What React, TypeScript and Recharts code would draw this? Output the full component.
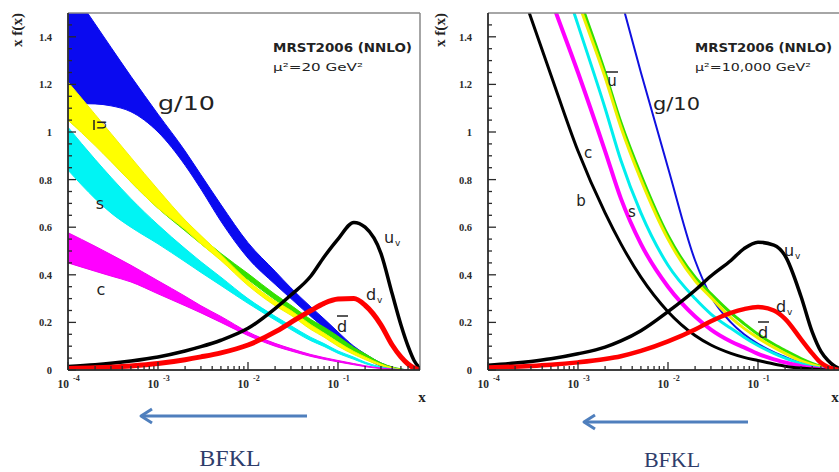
import React from 'react';
import { ComposedChart, Area, Line, XAxis, YAxis, ReferenceLine } from 'recharts';

// ---------- shared x grid ----------
const xs = [1e-4, 2e-4, 3e-4, 5e-4, 1e-3, 2e-3, 3e-3, 5e-3, 1e-2, 2e-2, 3e-2, 5e-2, 0.07, 0.1, 0.15, 0.2, 0.3, 0.4, 0.5, 0.6, 0.7, 0.8];

// ---------- left panel: mu^2 = 20 GeV^2 (bands: low / high) ----------
const gLoLeft = [1.12, 1.118, 1.11, 1.085, 1.0, 0.86, 0.76, 0.625, 0.47, 0.36, 0.3, 0.225, 0.178, 0.13, 0.078, 0.05, 0.016, 0.005, 0.001, 0, 0, 0];
const gHiLeft = [1.62, 1.454, 1.356, 1.234, 1.075, 0.92, 0.82, 0.695, 0.535, 0.415, 0.345, 0.265, 0.215, 0.16, 0.1, 0.068, 0.03, 0.012, 0.004, 0.001, 0, 0];
const ubarLoLeft = [1.05, 0.943, 0.876, 0.79, 0.68, 0.59, 0.53, 0.46, 0.355, 0.27, 0.23, 0.17, 0.138, 0.1, 0.065, 0.044, 0.018, 0.006, 0.001, 0, 0, 0];
const ubarHiLeft = [1.21, 1.074, 0.994, 0.893, 0.758, 0.63, 0.565, 0.485, 0.375, 0.29, 0.25, 0.19, 0.155, 0.117, 0.078, 0.055, 0.025, 0.01, 0.003, 0, 0, 0];
const dbarLoLeft = [1.05, 0.95, 0.88, 0.79, 0.68, 0.585, 0.53, 0.465, 0.38, 0.295, 0.25, 0.19, 0.158, 0.12, 0.078, 0.054, 0.022, 0.008, 0.002, 0, 0, 0];
const dbarHiLeft = [1.15, 1.03, 0.95, 0.86, 0.73, 0.62, 0.56, 0.49, 0.405, 0.318, 0.272, 0.212, 0.18, 0.142, 0.095, 0.068, 0.03, 0.013, 0.005, 0, 0, 0];
const sLoLeft = [0.84, 0.72, 0.66, 0.6, 0.53, 0.455, 0.41, 0.355, 0.28, 0.21, 0.17, 0.123, 0.099, 0.07, 0.045, 0.027, 0.009, 0.002, 0, 0, 0, 0];
const sHiLeft = [1.02, 0.885, 0.81, 0.72, 0.61, 0.51, 0.455, 0.39, 0.3, 0.226, 0.186, 0.137, 0.111, 0.08, 0.054, 0.033, 0.013, 0.005, 0.001, 0, 0, 0];
const cLoLeft = [0.45, 0.415, 0.395, 0.37, 0.32, 0.27, 0.24, 0.2, 0.145, 0.1, 0.08, 0.057, 0.045, 0.034, 0.022, 0.014, 0.006, 0.002, 0, 0, 0, 0];
const cHiLeft = [0.577, 0.52, 0.485, 0.44, 0.375, 0.31, 0.27, 0.225, 0.16, 0.112, 0.09, 0.065, 0.052, 0.04, 0.027, 0.018, 0.008, 0.004, 0.001, 0, 0, 0];
const uvLeft = [0.015, 0.022, 0.028, 0.038, 0.055, 0.08, 0.098, 0.125, 0.175, 0.258, 0.315, 0.395, 0.475, 0.55, 0.62, 0.6, 0.49, 0.32, 0.19, 0.1, 0.04, 0.01];
const dvLeft = [0.006, 0.009, 0.012, 0.017, 0.027, 0.043, 0.055, 0.072, 0.105, 0.16, 0.2, 0.25, 0.28, 0.298, 0.3, 0.272, 0.19, 0.105, 0.055, 0.025, 0.008, 0];

// ---------- right panel: mu^2 = 10,000 GeV^2 ----------
const gRight = [4.5, 3.7, 3.3, 2.85, 2.3, 1.82, 1.56, 1.25, 0.85, 0.46, 0.31, 0.2, 0.15, 0.11, 0.075, 0.055, 0.03, 0.017, 0.01, 0.005, 0.002, 0];
const ubarRight = [3.5, 2.6, 2.25, 1.9, 1.55, 1.23, 1.02, 0.8, 0.55, 0.375, 0.305, 0.22, 0.175, 0.135, 0.095, 0.07, 0.038, 0.022, 0.012, 0.006, 0.002, 0];
const dbarRight = [3.55, 2.65, 2.3, 1.94, 1.58, 1.25, 1.04, 0.82, 0.565, 0.39, 0.32, 0.24, 0.195, 0.15, 0.108, 0.082, 0.048, 0.028, 0.016, 0.008, 0.003, 0];
const sRight = [3.2, 2.4, 2.1, 1.8, 1.45, 1.1, 0.88, 0.66, 0.44, 0.3, 0.235, 0.175, 0.138, 0.103, 0.07, 0.05, 0.027, 0.014, 0.007, 0.003, 0.001, 0];
const cRight = [2.5, 2.0, 1.8, 1.56, 1.25, 0.92, 0.72, 0.53, 0.35, 0.225, 0.17, 0.12, 0.095, 0.068, 0.045, 0.032, 0.016, 0.008, 0.003, 0.001, 0, 0];
const bRight = [2.1, 1.68, 1.48, 1.24, 0.92, 0.66, 0.53, 0.39, 0.245, 0.145, 0.105, 0.07, 0.053, 0.04, 0.025, 0.016, 0.008, 0.004, 0.002, 0, 0, 0];
const uvRight = [0.02, 0.029, 0.036, 0.047, 0.068, 0.096, 0.122, 0.165, 0.245, 0.335, 0.395, 0.46, 0.51, 0.537, 0.525, 0.48, 0.31, 0.16, 0.078, 0.04, 0.018, 0.006];
const dvRight = [0.01, 0.014, 0.017, 0.022, 0.032, 0.046, 0.058, 0.08, 0.12, 0.17, 0.205, 0.24, 0.256, 0.265, 0.25, 0.215, 0.13, 0.07, 0.03, 0.012, 0.004, 0];

// ---------- ticks ----------
const xMajorTicks = [1e-4, 1e-3, 1e-2, 1e-1];
const xMajorExps = ['-4', '-3', '-2', '-1'];
const xMinorTicks = [2e-4, 3e-4, 4e-4, 5e-4, 6e-4, 7e-4, 8e-4, 9e-4, 2e-3, 3e-3, 4e-3, 5e-3, 6e-3, 7e-3, 8e-3, 9e-3, 2e-2, 3e-2, 4e-2, 5e-2, 6e-2, 7e-2, 8e-2, 9e-2, 0.2, 0.3, 0.4, 0.5, 0.6, 0.7, 0.8];
const yTicks = [0, 0.2, 0.4, 0.6, 0.8, 1, 1.2, 1.4];
const yTickLabels = ['0', '0.2', '0.4', '0.6', '0.8', '1', '1.2', '1.4'];
const yMinorTicks = [0.05, 0.1, 0.15, 0.25, 0.3, 0.35, 0.45, 0.5, 0.55, 0.65, 0.7, 0.75, 0.85, 0.9, 0.95, 1.05, 1.1, 1.15, 1.25, 1.3, 1.35, 1.45];

const X_MIN = 1e-4;
const X_MAX_LEFT = 0.815;
const X_MAX_RIGHT = 1;
const Y_MAX = 1.5;

const rowsLeft = xs.map((x, i) => ({
  x,
  g: [gLoLeft[i], gHiLeft[i]],
  ubar: [ubarLoLeft[i], ubarHiLeft[i]],
  dbar: [dbarLoLeft[i], dbarHiLeft[i]],
  s: [sLoLeft[i], sHiLeft[i]],
  c: [cLoLeft[i], cHiLeft[i]],
  uv: uvLeft[i],
  dv: dvLeft[i],
}));

const rowsRight = xs.map((x, i) => ({
  x,
  g: gRight[i],
  ubar: ubarRight[i],
  dbar: dbarRight[i],
  s: sRight[i],
  c: cRight[i],
  b: bRight[i],
  uv: uvRight[i],
  dv: dvRight[i],
}));

const tickColor = '#2a2a2a';
const serif = '"Liberation Serif", "DejaVu Serif", serif';
const sans = '"DejaVu Sans", "Liberation Sans", sans-serif';

// x-axis tick: tickSize 6 + tickMargin 2 -> axis line is 8px above the label anchor
const XTick = (p: any) => {
  const v = p.payload.value;
  const idx = xMajorTicks.findIndex((t) => Math.abs(Math.log10(t) - Math.log10(v)) < 1e-6);
  const axisY = p.y - 8;
  const len = idx >= 0 ? 8 : 4;
  return (
    <g>
      <line x1={p.x} x2={p.x} y1={axisY} y2={axisY - len} stroke={tickColor} strokeWidth={1.3} />
      {idx >= 0 && (
        <>
          <text x={p.x + 1} y={p.y + 10} textAnchor="end" fontFamily={serif} fontWeight={700} fontSize={11.5} fill={tickColor}>10</text>
          <text x={p.x + 5} y={p.y + 3} textAnchor="start" fontFamily={serif} fontWeight={700} fontSize={8} fill={tickColor}>{xMajorExps[idx]}</text>
        </>
      )}
    </g>
  );
};

// y-axis tick: tickSize 6 + tickMargin 10 -> axis line is 16px right of the label anchor
const YTick = (p: any) => {
  const v = p.payload.value;
  const idx = yTicks.findIndex((t) => Math.abs(t - v) < 1e-9);
  const axisX = p.x + 16;
  const len = idx >= 0 ? 8 : 4;
  return (
    <g>
      <line x1={axisX} x2={axisX + len} y1={p.y} y2={p.y} stroke={tickColor} strokeWidth={1.3} />
      {idx >= 0 && (
        <text x={p.x} y={p.y + 4} textAnchor="end" fontFamily={serif} fontWeight={700} fontSize={10.5} fill={tickColor}>{yTickLabels[idx]}</text>
      )}
    </g>
  );
};

function axes(xMax: number) {
  const xAll = [...xMajorTicks, ...xMinorTicks.filter((t) => t < xMax)].sort((a, b) => a - b);
  const yAll = [...yTicks, ...yMinorTicks].sort((a, b) => a - b);
  return [
    <XAxis key="xa" dataKey="x" type="number" scale="log" domain={[X_MIN, xMax]} allowDataOverflow interval={0}
      ticks={xAll} tick={<XTick />} tickLine={false} tickSize={6} tickMargin={2} height={30}
      axisLine={{ stroke: '#333', strokeWidth: 1.5 }} />,
    <YAxis key="ya" type="number" domain={[0, Y_MAX]} allowDataOverflow interval={0}
      ticks={yAll} tick={<YTick />} tickLine={false} tickSize={6} tickMargin={10} width={68}
      axisLine={{ stroke: '#333', strokeWidth: 1.5 }} />,
  ];
}

const bandProps = { type: 'monotone' as const, isAnimationActive: false, dot: false, activeDot: false, strokeWidth: 1, fillOpacity: 1 };
const lineProps = { type: 'monotone' as const, isAnimationActive: false, dot: false, activeDot: false };
const chartMargin = { top: 13, right: 1, bottom: 0, left: 0 };

function LeftChart() {
  return (
    <ComposedChart width={421} height={400} data={rowsLeft} margin={chartMargin}>
      {axes(X_MAX_LEFT)}
      <Area dataKey="g" fill="#0a0af0" stroke="#0a0af0" {...bandProps} />
      <Area dataKey="dbar" fill="#33e000" stroke="#33e000" {...bandProps} />
      <Area dataKey="ubar" fill="#ffff00" stroke="#f4f400" {...bandProps} />
      <Area dataKey="s" fill="#00f4f4" stroke="#00f0f0" {...bandProps} />
      <Area dataKey="c" fill="#ff00ff" stroke="#f000f0" {...bandProps} />
      <Line dataKey="uv" stroke="#000" strokeWidth={3.5} {...lineProps} />
      <Line dataKey="dv" stroke="#ff0000" strokeWidth={5} {...lineProps} />
      <ReferenceLine y={Y_MAX} stroke="#888" strokeWidth={1.5} />
      <ReferenceLine x={X_MAX_LEFT} stroke="#888" strokeWidth={1.5} />
      <ReferenceLine x={X_MIN} stroke="#333" strokeWidth={1.5} />
      <ReferenceLine y={0} stroke="#333" strokeWidth={1.5} />
    </ComposedChart>
  );
}

function RightChart() {
  return (
    <ComposedChart width={429} height={400} data={rowsRight} margin={chartMargin}>
      {axes(X_MAX_RIGHT)}
      <Line dataKey="g" stroke="#1010e0" strokeWidth={2} {...lineProps} />
      <Line dataKey="dbar" stroke="#33e000" strokeWidth={3} {...lineProps} />
      <Line dataKey="ubar" stroke="#f0f000" strokeWidth={3} {...lineProps} />
      <Line dataKey="s" stroke="#00eeee" strokeWidth={3} {...lineProps} />
      <Line dataKey="c" stroke="#ff00ff" strokeWidth={4} {...lineProps} />
      <Line dataKey="b" stroke="#000" strokeWidth={3} {...lineProps} />
      <Line dataKey="uv" stroke="#000" strokeWidth={3.5} {...lineProps} />
      <Line dataKey="dv" stroke="#ff0000" strokeWidth={4.5} {...lineProps} />
      <ReferenceLine y={Y_MAX} stroke="#888" strokeWidth={1.5} />
      <ReferenceLine x={X_MIN} stroke="#333" strokeWidth={1.5} />
      <ReferenceLine y={0} stroke="#333" strokeWidth={1.5} />
    </ComposedChart>
  );
}

const lbl = { fontFamily: sans, fill: '#222' };

function Overlay() {
  const arrowColor = '#4f7fbd';
  return (
    <svg width={839} height={472} style={{ position: 'absolute', left: 0, top: 0, pointerEvents: 'none' }}>
      {/* y axis titles */}
      <text transform="translate(22,30) rotate(-90)" textAnchor="middle" fontFamily={serif} fontWeight={700} fontSize={14} fill="#222" textLength={34} lengthAdjust="spacingAndGlyphs">x f(x)</text>
      <text transform="translate(445,30) rotate(-90)" textAnchor="middle" fontFamily={serif} fontWeight={700} fontSize={14} fill="#222" textLength={34} lengthAdjust="spacingAndGlyphs">x f(x)</text>
      {/* x axis titles */}
      <text x={422} y={402} textAnchor="middle" fontFamily={serif} fontWeight={700} fontSize={15} fill="#222">x</text>
      <text x={835} y={402} textAnchor="middle" fontFamily={serif} fontWeight={700} fontSize={15} fill="#222">x</text>

      {/* left panel annotations */}
      <text x={273} y={52} {...lbl} fontWeight={700} fontSize={12.5} textLength={139} lengthAdjust="spacingAndGlyphs">MRST2006 (NNLO)</text>
      <text x={273} y={71} {...lbl} fontSize={11} textLength={90} lengthAdjust="spacingAndGlyphs">μ²=20 GeV²</text>
      <text x={158} y={110} {...lbl} fontSize={19} textLength={57} lengthAdjust="spacingAndGlyphs">g/10</text>
      <g transform="translate(101,125) rotate(-90)">
        <text x={0} y={5} textAnchor="middle" {...lbl} fontSize={15}>u</text>
        <line x1={-5} x2={5} y1={-7} y2={-7} stroke="#222" strokeWidth={1.5} />
      </g>
      <text x={100} y={209} textAnchor="middle" {...lbl} fontSize={16}>s</text>
      <text x={101} y={295} textAnchor="middle" {...lbl} fontSize={16}>c</text>
      <text x={384} y={243} {...lbl} fontSize={16}>u</text>
      <text x={395} y={246} {...lbl} fontSize={9}>v</text>
      <text x={366} y={300} {...lbl} fontSize={16}>d</text>
      <text x={377} y={303} {...lbl} fontSize={9}>v</text>
      <text x={342} y={332} textAnchor="middle" {...lbl} fontSize={16}>d</text>
      <line x1={337} x2={348} y1={316} y2={316} stroke="#222" strokeWidth={1.5} />

      {/* right panel annotations */}
      <text x={695} y={52} {...lbl} fontWeight={700} fontSize={12.5} textLength={137} lengthAdjust="spacingAndGlyphs">MRST2006 (NNLO)</text>
      <text x={695} y={71} {...lbl} fontSize={11} textLength={116} lengthAdjust="spacingAndGlyphs">μ²=10,000 GeV²</text>
      <text x={653} y={110} {...lbl} fontSize={18} textLength={47} lengthAdjust="spacingAndGlyphs">g/10</text>
      <text x={612} y={86} textAnchor="middle" {...lbl} fontSize={15}>u</text>
      <line x1={606} x2={618} y1={72} y2={72} stroke="#222" strokeWidth={1.5} />
      <text x={588} y={158} textAnchor="middle" {...lbl} fontSize={15}>c</text>
      <text x={581} y={206} textAnchor="middle" {...lbl} fontSize={15}>b</text>
      <text x={632} y={217} textAnchor="middle" {...lbl} fontSize={15}>s</text>
      <text x={784} y={256} {...lbl} fontSize={16}>u</text>
      <text x={795} y={259} {...lbl} fontSize={9}>v</text>
      <text x={776} y={312} {...lbl} fontSize={16}>d</text>
      <text x={787} y={315} {...lbl} fontSize={9}>v</text>
      <text x={763} y={338} textAnchor="middle" {...lbl} fontSize={16}>d</text>
      <line x1={758} x2={769} y1={322} y2={322} stroke="#222" strokeWidth={1.5} />

      {/* arrows */}
      <line x1={307} y1={416} x2={142} y2={416} stroke={arrowColor} strokeWidth={3} />
      <path d="M152,409 L141,416 L152,423" fill="none" stroke={arrowColor} strokeWidth={3} strokeLinejoin="round" />
      <line x1={748} y1={422} x2={585} y2={422} stroke={arrowColor} strokeWidth={3} />
      <path d="M595,415 L584,422 L595,429" fill="none" stroke={arrowColor} strokeWidth={3} strokeLinejoin="round" />

      {/* BFKL */}
      <text x={230} y={466} textAnchor="middle" fontFamily={serif} fontSize={24} fill="#2e3d6b">BFKL</text>
      <text x={672} y={467} textAnchor="middle" fontFamily={serif} fontSize={22} fill="#2e3d6b">BFKL</text>
    </svg>
  );
}

export default function App() {
  return (
    <div style={{ position: 'absolute', left: 0, top: 0, width: 839, height: 472, overflow: 'hidden', background: '#fff' }}>
      <div style={{ position: 'absolute', left: 0, top: 0 }}>
        <LeftChart />
      </div>
      <div style={{ position: 'absolute', left: 420, top: 0 }}>
        <RightChart />
      </div>
      <Overlay />
    </div>
  );
}
